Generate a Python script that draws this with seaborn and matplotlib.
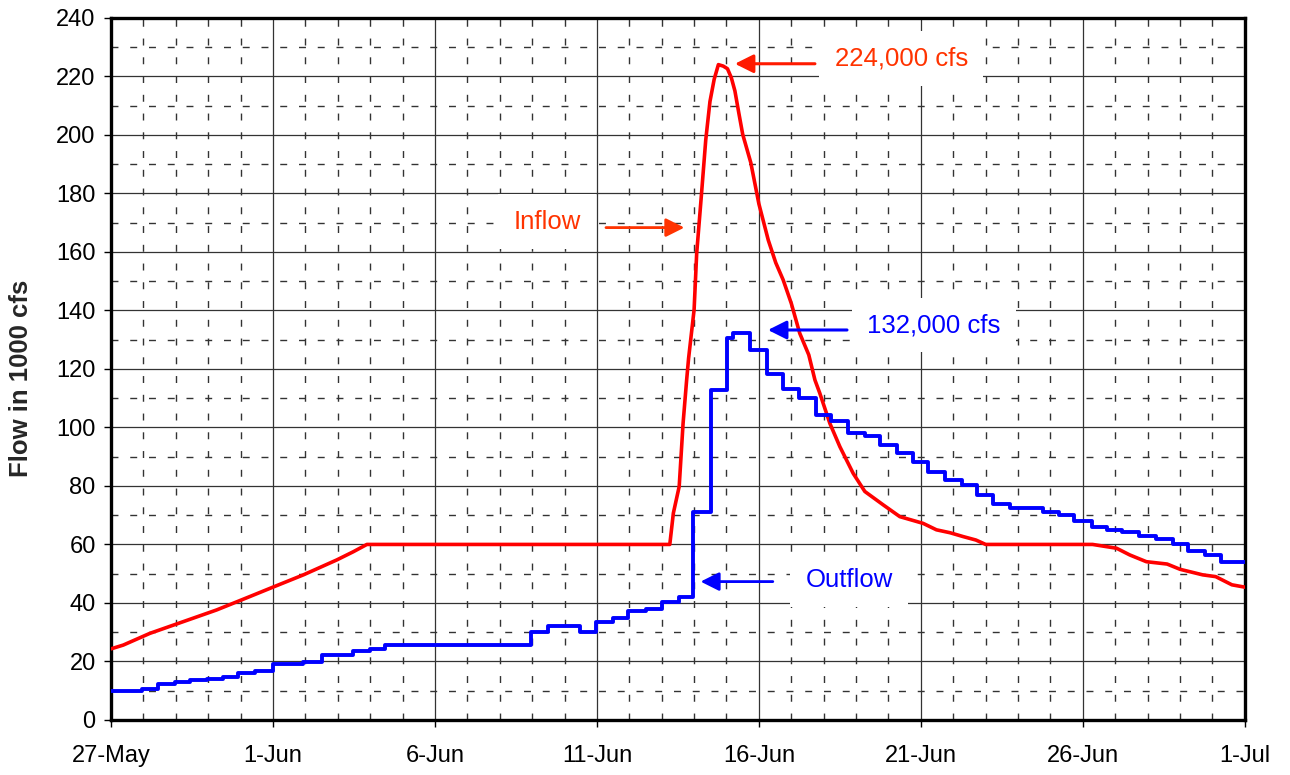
import matplotlib
matplotlib.use('Agg')
import matplotlib.pyplot as plt
import seaborn as sns
import pandas as pd
from matplotlib.ticker import MultipleLocator

# Flow values in 1000 cfs, x in days after 27-May
inflow_days = [0, 0.38, 1.2, 2.23, 3.26, 4.29, 5.0, 5.94, 6.97, 7.48, 7.9,
               17.25, 17.36, 17.54, 17.66, 17.77, 17.83, 18.0, 18.08, 18.23, 18.36, 18.49,
               18.62, 18.75, 18.9, 19.03, 19.15, 19.26, 19.38, 19.5, 19.75, 20.0, 20.29, 20.52,
               20.75, 21.0, 21.26, 21.54, 21.73, 21.88, 22.19, 22.5, 22.91, 23.27, 23.84,
               24.35, 25.07, 25.48, 25.9, 26.3, 26.7, 27.0, 30.3, 31.04, 31.45, 31.96, 32.6,
               33.0, 33.7, 34.1, 34.6, 35.0]
inflow_vals = [24.3, 25.6, 29.6, 33.6, 37.6, 42.2, 45.4, 49.6, 54.7, 57.5, 60.0,
               60.0, 70.7, 79.8, 101.4, 116.2, 123.6, 140.2, 159.5, 180.0, 198.3, 211.4,
               219.0, 224.0, 223.5, 222.6, 219.5, 215.0, 207.5, 200.2, 190.5, 176.4, 164.0, 156.3,
               150.4, 142.4, 132.2, 124.8, 116.2, 111.7, 101.4, 93.4, 84.3, 78.1, 73.5,
               69.5, 67.2, 65.0, 64.0, 62.7, 61.5, 60.0, 60.0, 58.7, 56.4, 54.1, 53.3,
               51.5, 49.6, 49.0, 46.2, 45.4]

outflow_days = [0, 0.95, 1.46, 1.98, 2.44, 2.95, 3.47, 3.93, 4.44, 5.01,
                5.94, 6.5, 7.48, 7.99, 8.46, 12.96, 13.48, 14.47, 14.97, 15.5,
                15.97, 16.51, 17.0, 17.52, 17.97, 18.51, 19.03, 19.21, 19.74, 20.26,
                20.73, 21.24, 21.76, 22.24, 22.74, 23.27, 23.73, 24.27, 24.76, 25.23,
                25.76, 26.26, 26.74, 27.23, 27.75, 28.77, 29.27, 29.72, 30.27, 30.75,
                31.22, 31.74, 32.27, 32.77, 33.25, 33.77, 34.26, 35.0]
outflow_vals = [9.9, 10.6, 12.2, 12.9, 13.7, 13.9, 14.8, 16.2, 16.8, 19.1,
                19.9, 22.2, 23.6, 24.2, 25.5, 30.0, 32.1, 30.0, 33.4, 35.0,
                37.4, 37.9, 40.2, 41.9, 71.2, 112.7, 130.5, 132.2, 126.3, 118.3,
                113.0, 110.2, 104.3, 102.2, 98.2, 96.9, 94.0, 91.2, 88.3, 84.9,
                82.1, 80.3, 76.9, 73.8, 72.4, 71.2, 70.1, 68.1, 66.1, 65.0,
                64.2, 62.9, 61.8, 60.2, 57.9, 56.4, 53.9, 53.9]

tick_days = [0, 5, 10, 15, 20, 25, 30, 35]
tick_labels = ['27-May', '1-Jun', '6-Jun', '11-Jun', '16-Jun', '21-Jun', '26-Jun', '1-Jul']

sns.set_theme(style='white')
plt.rcParams['font.family'] = ['Liberation Sans', 'DejaVu Sans']

inflow = pd.DataFrame({'day': inflow_days, 'flow': inflow_vals})
outflow = pd.DataFrame({'day': outflow_days, 'flow': outflow_vals})

fig = plt.figure(figsize=(12.9, 7.75), dpi=100)
ax = fig.add_axes([0.086, 0.071, 0.879, 0.906])

sns.lineplot(data=inflow, x='day', y='flow', ax=ax, color='#FF0000', linewidth=2.6, zorder=3)
sns.lineplot(data=outflow, x='day', y='flow', ax=ax, color='#0000FF', linewidth=2.8,
             drawstyle='steps-post', zorder=3)

ax.set_xlim(0, 35)
ax.set_ylim(0, 240)
ax.set_xticks(tick_days)
ax.set_xticklabels(tick_labels)
ax.yaxis.set_major_locator(MultipleLocator(20))
ax.xaxis.set_minor_locator(MultipleLocator(1))
ax.yaxis.set_minor_locator(MultipleLocator(10))

# grid: solid major, sparse dashed minor
ax.grid(which='major', color='#333333', linewidth=0.9, linestyle='-')
ax.grid(which='minor', color='#333333', linewidth=1.0, linestyle=(0, (5, 8.5)))
ax.set_axisbelow(True)

ax.tick_params(axis='both', which='major', direction='out', length=5, width=1,
               color='black', labelsize=17, labelcolor='black', bottom=True, left=True)
ax.tick_params(axis='x', which='major', pad=13)
ax.tick_params(axis='y', which='major', pad=6)
ax.tick_params(which='minor', length=0)

for sp in ax.spines.values():
    sp.set_color('black')
    sp.set_linewidth(2.4)

ax.set_xlabel('')
ax.set_ylabel('Flow in 1000 cfs', fontsize=18.5, fontweight='bold')
ax.yaxis.set_label_coords(-0.069, 0.486)

box = dict(boxstyle='square,pad=0.6', facecolor='white', edgecolor='none')

# peak inflow note
ax.text(24.4, 226, '224,000 cfs', color='#FF3300', fontsize=18.5, ha='center', va='center',
        bbox=box, zorder=4)
ax.annotate('', xy=(19.26, 224.3), xytext=(21.73, 224.3),
            arrowprops=dict(arrowstyle='-|>', color='#FF1A00', lw=2.2, mutation_scale=28,
                            shrinkA=0, shrinkB=0), zorder=5)

# peak outflow note
ax.text(25.4, 135, '132,000 cfs', color='#0000FF', fontsize=18.5, ha='center', va='center',
        bbox=box, zorder=4)
ax.annotate('', xy=(20.28, 133.3), xytext=(22.72, 133.3),
            arrowprops=dict(arrowstyle='-|>', color='#0000FF', lw=2.2, mutation_scale=28,
                            shrinkA=0, shrinkB=0), zorder=5)

# inflow label
ax.text(13.47, 170.3, 'Inflow', color='#FF3300', fontsize=18.5, ha='center', va='center',
        bbox=box, zorder=4)
ax.annotate('', xy=(17.7, 168.3), xytext=(15.28, 168.3),
            arrowprops=dict(arrowstyle='-|>', color='#FF3300', lw=2.0, mutation_scale=28,
                            shrinkA=0, shrinkB=0), zorder=5)

# outflow label
ax.text(22.78, 47.9, 'Outflow', color='#0000FF', fontsize=18.5, ha='center', va='center',
        bbox=box, zorder=4)
ax.annotate('', xy=(18.2, 47.3), xytext=(20.43, 47.3),
            arrowprops=dict(arrowstyle='-|>', color='#0000FF', lw=2.0, mutation_scale=28,
                            shrinkA=0, shrinkB=0), zorder=5)

fig.savefig('out.png', dpi=100)
